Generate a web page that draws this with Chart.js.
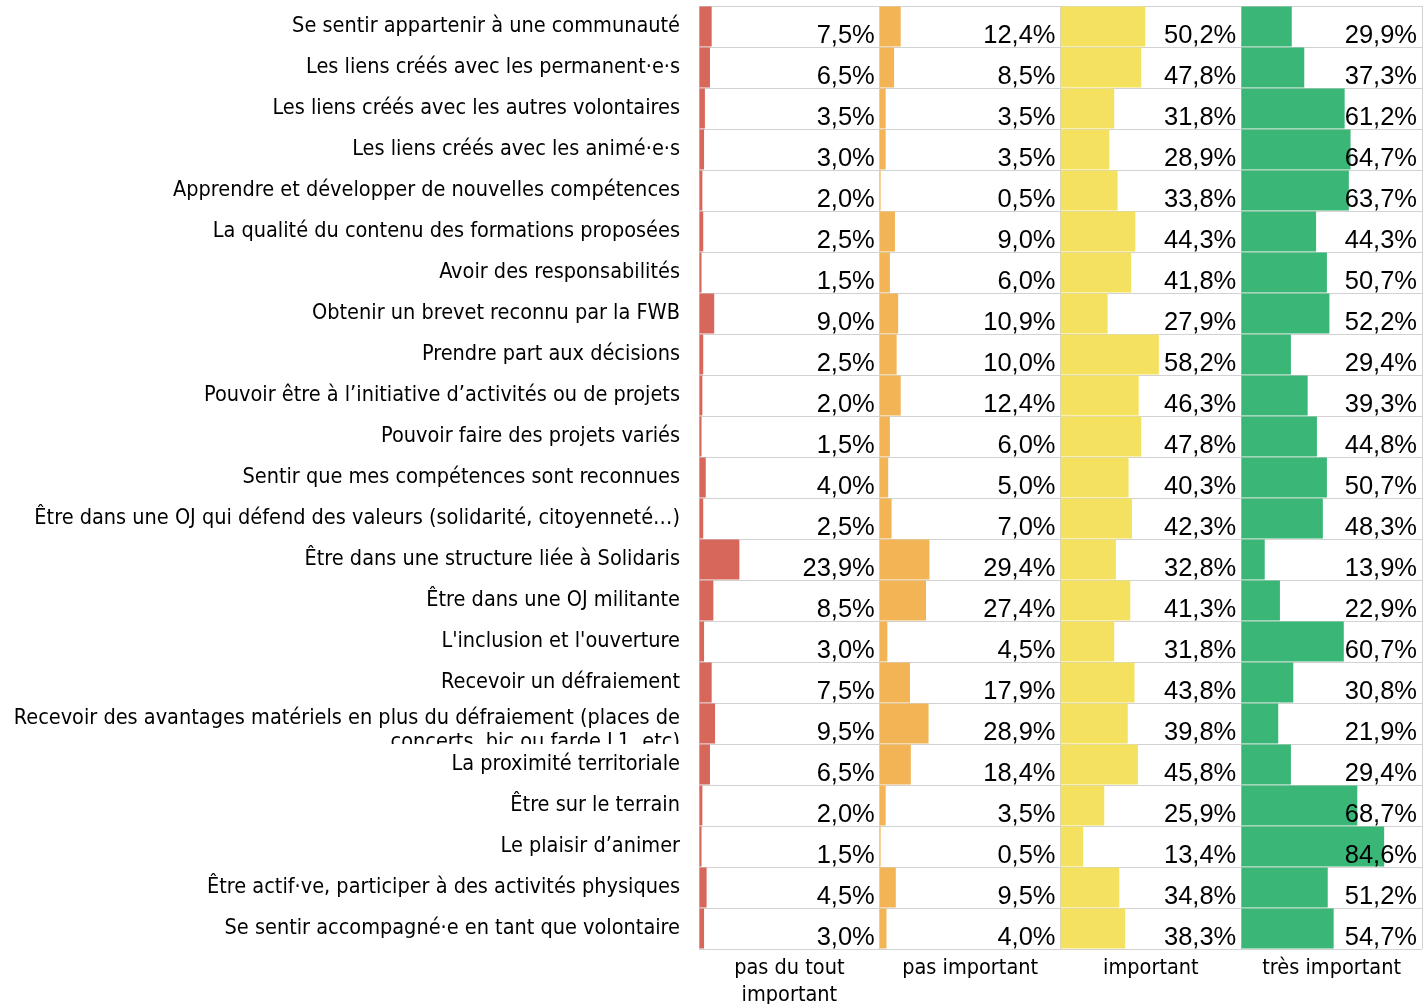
<!DOCTYPE html>
<html lang="fr">
<head>
<meta charset="utf-8">
<title>Importance des motivations</title>
<script src="https://cdn.jsdelivr.net/npm/chart.js@4.4.1/dist/chart.umd.min.js"></script>
<style>
    html, body { margin: 0; padding: 0; background: #fff; }
    #wrap { width: 1425px; height: 1004px; position: relative; }
</style>
</head>
<body>
<div id="wrap"><canvas id="chart"></canvas></div>
<script>
// Categories (rows, top to bottom)
const categories = [
    'Se sentir appartenir à une communauté',
    'Les liens créés avec les permanent·e·s',
    'Les liens créés avec les autres volontaires',
    'Les liens créés avec les animé·e·s',
    'Apprendre et développer de nouvelles compétences',
    'La qualité du contenu des formations proposées',
    'Avoir des responsabilités',
    'Obtenir un brevet reconnu par la FWB',
    'Prendre part aux décisions',
    'Pouvoir être à l’initiative d’activités ou de projets',
    'Pouvoir faire des projets variés',
    'Sentir que mes compétences sont reconnues',
    'Être dans une OJ qui défend des valeurs (solidarité, citoyenneté…)',
    'Être dans une structure liée à Solidaris',
    'Être dans une OJ militante',
    'L\'inclusion et l\'ouverture',
    'Recevoir un défraiement',
    ['Recevoir des avantages matériels en plus du défraiement (places de', 'concerts, bic ou farde L1, etc)'],
    'La proximité territoriale',
    'Être sur le terrain',
    'Le plaisir d’animer',
    'Être actif·ve, participer à des activités physiques',
    'Se sentir accompagné·e en tant que volontaire'
];

// Panel titles
const panelTitles = [
    ['pas du tout', 'important'],
    ['pas important', ''],
    ['important', ''],
    ['très important', '']
];

// Values in %
const pasDuTout = [7.5, 6.5, 3.5, 3.0, 2.0, 2.5, 1.5, 9.0, 2.5, 2.0, 1.5, 4.0, 2.5, 23.9, 8.5, 3.0, 7.5, 9.5, 6.5, 2.0, 1.5, 4.5, 3.0];
const pasImportant = [12.4, 8.5, 3.5, 3.5, 0.5, 9.0, 6.0, 10.9, 10.0, 12.4, 6.0, 5.0, 7.0, 29.4, 27.4, 4.5, 17.9, 28.9, 18.4, 3.5, 0.5, 9.5, 4.0];
const important = [50.2, 47.8, 31.8, 28.9, 33.8, 44.3, 41.8, 27.9, 58.2, 46.3, 47.8, 40.3, 42.3, 32.8, 41.3, 31.8, 43.8, 39.8, 45.8, 25.9, 13.4, 34.8, 38.3];
const tresImportant = [29.9, 37.3, 61.2, 64.7, 63.7, 44.3, 50.7, 52.2, 29.4, 39.3, 44.8, 50.7, 48.3, 13.9, 22.9, 60.7, 30.8, 21.9, 29.4, 68.7, 84.6, 51.2, 54.7];

const X_MAX = 107;
const GRID = '#d2d2d2';
const LABEL_FONT = "'DejaVu Sans Condensed', 'DejaVu Sans', sans-serif";
const VALUE_FONT = "'Liberation Sans', Arial, sans-serif";
const LABEL_SIZE = 21.5;
const LABEL_PAD = 19;

const seriesValues = [pasDuTout, pasImportant, important, tresImportant];
const seriesColors = ['#d6675a', '#f2b455', '#f5e160', '#3ab677'];

// Value labels, right-aligned in each panel cell
const valueLabels = {
    id: 'valueLabels',
    afterDatasetsDraw(chart) {
        const ctx = chart.ctx;
        const yScale = chart.scales.y;
        const half = (yScale.getPixelForValue(1) - yScale.getPixelForValue(0)) / 2;
        ctx.save();
        ctx.font = '25.5px ' + VALUE_FONT;
        ctx.fillStyle = '#000';
        ctx.textAlign = 'right';
        ctx.textBaseline = 'alphabetic';
        chart.data.datasets.forEach(function(ds) {
            const xScale = chart.scales[ds.xAxisID];
            ds.data.forEach(function(v, i) {
                const y = yScale.getPixelForValue(i) + half - 4;
                ctx.fillText(v.toFixed(1).replace('.', ',') + '%', xScale.right - 5, y);
            });
        });
        ctx.restore();
    }
};

// Two-line label: second line is cut off at the bottom of its row
const longLabel = {
    id: 'longLabel',
    afterDraw(chart) {
        const yScale = chart.scales.y;
        const ctx = chart.ctx;
        const half = (yScale.getPixelForValue(1) - yScale.getPixelForValue(0)) / 2;
        categories.forEach(function(c, i) {
            if (!Array.isArray(c)) return;
            const center = yScale.getPixelForValue(i);
            ctx.save();
            ctx.beginPath();
            ctx.rect(0, center - half - 12, chart.chartArea.left - 2, 2 * half + 12);
            ctx.clip();
            ctx.font = LABEL_SIZE + 'px ' + LABEL_FONT;
            ctx.fillStyle = '#000';
            ctx.textAlign = 'right';
            ctx.textBaseline = 'alphabetic';
            c.forEach(function(line, k) {
                ctx.fillText(line, chart.chartArea.left - LABEL_PAD, center + k * 24.5);
            });
            ctx.restore();
        });
    }
};

function panelAxis(title, first) {
    return {
        type: 'linear',
        position: 'bottom',
        stack: 'panels',
        stackWeight: 1,
        min: 0,
        max: X_MAX,
        afterBuildTicks: function(axis) {
            axis.ticks = first ? [{ value: 0 }, { value: X_MAX }] : [{ value: X_MAX }];
        },
        afterFit: function(axis) {
            axis.height = 55;
        },
        ticks: { display: false },
        grid: { color: GRID, drawTicks: false },
        border: { display: false },
        title: {
            display: true,
            text: title,
            color: '#000',
            font: { family: LABEL_FONT, size: LABEL_SIZE, lineHeight: '27px' },
            padding: { top: 0, bottom: -5 }
        }
    };
}

const scales = {
    y: {
        type: 'category',
        offset: true,
        afterFit: function(axis) {
            axis.width = 699;
            axis.paddingTop = 0;
            axis.paddingBottom = 0;
        },
        grid: { color: GRID, drawTicks: false, offset: true },
        border: { display: true, color: GRID },
        ticks: {
            color: '#000',
            padding: LABEL_PAD,
            autoSkip: false,
            font: { family: LABEL_FONT, size: LABEL_SIZE },
            callback: function(value) {
                const label = this.getLabelForValue(value);
                return Array.isArray(categories[value]) ? '' : label;
            }
        }
    }
};

const datasets = seriesValues.map(function(values, i) {
    const axisId = 'x' + i;
    scales[axisId] = panelAxis(panelTitles[i], i === 0);
    return {
        label: panelTitles[i].join(' ').trim(),
        data: values,
        xAxisID: axisId,
        backgroundColor: seriesColors[i],
        borderWidth: 0,
        grouped: false,
        barPercentage: 0.97,
        categoryPercentage: 1
    };
});

new Chart(document.getElementById('chart'), {
    type: 'bar',
    data: {
        labels: categories,
        datasets: datasets
    },
    options: {
        indexAxis: 'y',
        responsive: true,
        maintainAspectRatio: false,
        animation: false,
        layout: {
            padding: { top: 6, right: 3, left: 0, bottom: 0 }
        },
        plugins: {
            legend: { display: false },
            tooltip: { enabled: false }
        },
        scales: scales
    },
    plugins: [valueLabels, longLabel]
});
</script>
</body>
</html>
